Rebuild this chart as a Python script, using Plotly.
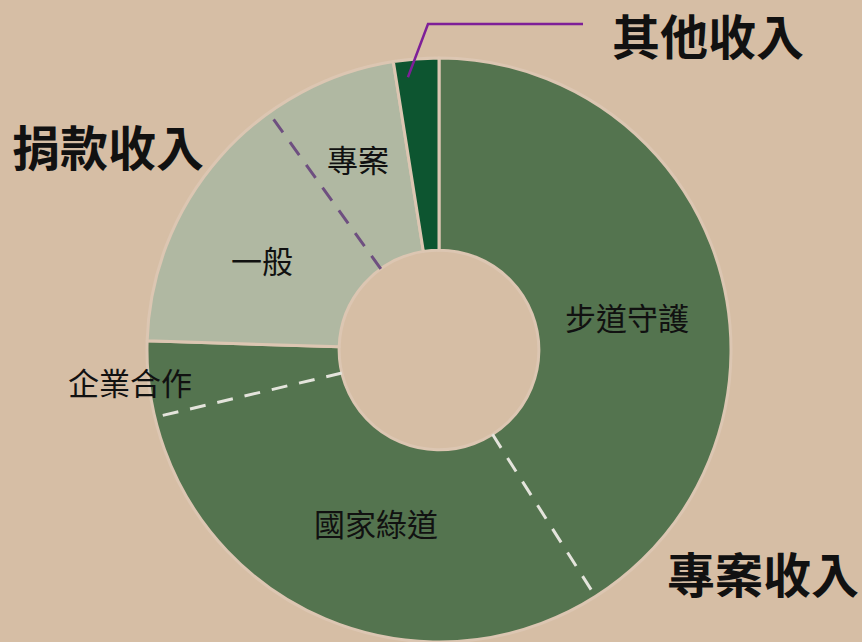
import math
import plotly.graph_objects as go

# ---------------- data ----------------
group_names = ["專案收入", "捐款收入", "其他收入"]
sub_names = ["步道守護", "國家綠道", "企業合作", "一般", "專案", "其他"]
sub_group = ["專案收入", "專案收入", "專案收入", "捐款收入", "捐款收入", "其他收入"]
sub_values = [41.0, 30.3, 4.2, 14.6, 7.4, 2.5]

group_values = [sum(v for v, g in zip(sub_values, sub_group) if g == name) for name in group_names]

# ---------------- style / layout ----------------
W, H = 862, 642
BG = "#d6bea5"
GROUP_COLORS = {"專案收入": "#54744f", "捐款收入": "#b0b8a2", "其他收入": "#0d5530"}
CX, CY, R = 439, 350, 292          # pixel geometry of the ring
HOLE = 0.342
R_IN = R * HOLE
FONT = "Noto Sans CJK TC, Noto Sans CJK SC, sans-serif"


def to_paper(px, py):
    return px / W, 1 - py / H


def polar(theta_deg, r):
    t = math.radians(theta_deg)
    return CX + r * math.sin(t), CY - r * math.cos(t)


total = sum(sub_values)
cum = [0.0]
for v in sub_values:
    cum.append(cum[-1] + v)
angles = [c / total * 360 for c in cum]

fig = go.Figure()
fig.add_trace(go.Pie(
    labels=group_names,
    values=group_values,
    sort=False,
    direction="clockwise",
    rotation=0,
    hole=HOLE,
    textinfo="none",
    hoverinfo="label+value",
    marker=dict(colors=[GROUP_COLORS[g] for g in group_names],
                line=dict(color="#dcc6b2", width=3)),
    domain=dict(x=[(CX - R) / W, (CX + R) / W], y=[1 - (CY + R) / H, 1 - (CY - R) / H]),
    showlegend=False,
))

shapes = []
# dashed dividers between sub-categories inside the same group
for i in range(1, len(sub_values)):
    if sub_group[i] == sub_group[i - 1]:
        a = angles[i]
        x0, y0 = to_paper(*polar(a, R_IN))
        x1, y1 = to_paper(*polar(a, R - 1))
        col = "#e4e4dc" if sub_group[i] == "專案收入" else "#6e4f80"
        shapes.append(dict(type="line", xref="paper", yref="paper",
                           x0=x0, y0=y0, x1=x1, y1=y1,
                           line=dict(color=col, width=3, dash="16px,12px")))

annotations = []
# sub-category labels (placed at the slice's mid angle; per-label polar tweak: (d_angle, radius))
label_polar = {"步道守護": (6, 191), "國家綠道": (-2, 184), "企業合作": (0, 311),
               "一般": (-1, 199), "專案": (-0.5, 208)}
for i, name in enumerate(sub_names):
    if name not in label_polar:
        continue
    mid = (angles[i] + angles[i + 1]) / 2
    da, rr = label_polar[name]
    x, y = to_paper(*polar(mid + da, rr))
    annotations.append(dict(x=x, y=y, xref="paper", yref="paper", text=name,
                            showarrow=False, xanchor="center", yanchor="middle",
                            font=dict(family=FONT, size=31, color="#111111")))

# group labels
group_label_pos = {"專案收入": (763, 572), "捐款收入": (108, 145), "其他收入": (708, 34)}
for name in group_names:
    x, y = to_paper(*group_label_pos[name])
    annotations.append(dict(x=x, y=y, xref="paper", yref="paper", text="<b>" + name + "</b>",
                            showarrow=False, xanchor="center", yanchor="middle",
                            font=dict(family=FONT, size=48, color="#111111")))

# leader line for 其他收入
oi = sub_group.index("其他收入")
mid_o = (angles[oi] + angles[oi + 1]) / 2
sx, sy = polar(mid_o - 2, R * 0.94)
ex, ey = 428, 24
fx, fy = 583, 24
pts = [to_paper(sx, sy), to_paper(ex, ey), to_paper(fx, fy)]
path = "M {} {} L {} {} L {} {}".format(pts[0][0], pts[0][1], pts[1][0], pts[1][1], pts[2][0], pts[2][1])
shapes.append(dict(type="path", xref="paper", yref="paper", path=path,
                   line=dict(color="#7e1f98", width=2.5)))

fig.update_layout(
    width=W, height=H,
    margin=dict(l=0, r=0, t=0, b=0),
    paper_bgcolor=BG, plot_bgcolor=BG,
    shapes=shapes, annotations=annotations,
    font=dict(family=FONT),
)

fig.write_html(
    "out.html",
    config={"displayModeBar": False},
    post_script="document.body.style.margin='0';document.body.style.overflow='hidden';"
                "document.body.style.background='" + BG + "';",
)
